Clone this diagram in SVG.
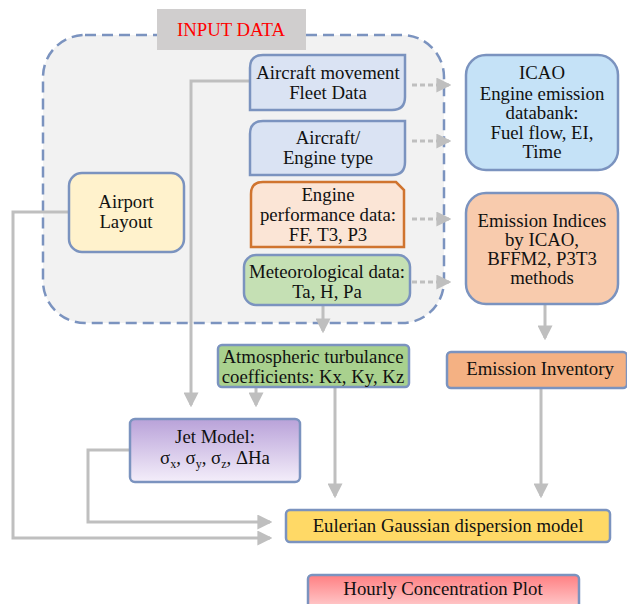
<svg xmlns="http://www.w3.org/2000/svg" width="627" height="604" viewBox="0 0 627 604" font-family="'Liberation Serif', 'Times New Roman', serif">
<defs>
<linearGradient id="gJet" x1="0" y1="0" x2="0" y2="1">
<stop offset="0" stop-color="#b9a2d9"/>
<stop offset="1" stop-color="#f4eefa"/>
</linearGradient>
<linearGradient id="gHour" x1="0" y1="0" x2="0" y2="1">
<stop offset="0" stop-color="#ff7f82"/>
<stop offset="1" stop-color="#ffd3d4"/>
</linearGradient>
<marker id="ah" markerWidth="5" markerHeight="5" refX="4.2" refY="2.5" orient="auto" markerUnits="strokeWidth">
<path d="M0,0 L5,2.5 L0,5 Z" fill="#bfbfbf"/>
</marker>
</defs>
<style>
text{font-family:"Liberation Serif","Times New Roman",serif;font-size:18.8px;fill:#111;text-anchor:middle}
.box{stroke:#7b93bf;stroke-width:2.5}
.con{fill:none;stroke:#bfbfbf;stroke-width:3}
.dash{fill:none;stroke:#bfbfbf;stroke-width:3;stroke-dasharray:5,3}
</style>
<rect width="627" height="604" fill="#ffffff"/>

<g id="input-data">
<rect x="43" y="35" width="401" height="288" rx="42" fill="#f2f2f2" stroke="#7b93bf" stroke-width="2.5" stroke-dasharray="11,6"/>
<rect x="157" y="9" width="149" height="41" fill="#d0cece"/>
<text x="231" y="36" style="fill:#ff0000">INPUT DATA</text>
</g>

<g id="connectors">
<path class="dash" d="M412,85 H449" marker-end="url(#ah)"/>
<path class="dash" d="M412,141 H449" marker-end="url(#ah)"/>
<path class="dash" d="M412,219 H449" marker-end="url(#ah)"/>
<path class="dash" d="M412,282 H449" marker-end="url(#ah)"/>
<path class="con" d="M250,81 H191 V405" marker-end="url(#ah)"/>
<path class="con" d="M69,212 H13 V538 H270" marker-end="url(#ah)"/>
<path class="con" d="M130,450 H88 V522 H270" marker-end="url(#ah)"/>
<path class="con" d="M323,305 V331" marker-end="url(#ah)"/>
<path class="con" d="M256,387 V405" marker-end="url(#ah)"/>
<path class="con" d="M335,387 V496" marker-end="url(#ah)"/>
<path class="con" d="M545,304 V338" marker-end="url(#ah)"/>
<path class="con" d="M541,388 V496" marker-end="url(#ah)"/>
</g>

<g id="aircraft-movement">
<path class="box" d="M250,68 Q250,55 263,55 H405 V97 Q405,110 392,110 H250 Z" fill="#dae3f3"/>
<text x="328" y="79">Aircraft movement</text>
<text x="328" y="99">Fleet Data</text>
</g>

<g id="aircraft-engine-type">
<path class="box" d="M250,134 Q250,121 263,121 H405 V162 Q405,175 392,175 H250 Z" fill="#dae3f3"/>
<text x="328" y="144">Aircraft/</text>
<text x="328" y="164">Engine type</text>
</g>

<g id="engine-performance">
<path d="M251,194 Q251,182 263,182 H396 L404,190 V247 H251 Z" fill="#fbe5d6" stroke="#d0742f" stroke-width="2.5"/>
<text x="328" y="201">Engine</text>
<text x="328" y="221">performance data:</text>
<text x="328" y="241">FF, T3, P3</text>
</g>

<g id="meteorological">
<rect class="box" x="244" y="255" width="166" height="50" rx="12" fill="#c5e0b4"/>
<text x="327" y="278">Meteorological data:</text>
<text x="327" y="298">Ta, H, Pa</text>
</g>

<g id="airport-layout">
<rect class="box" x="69" y="173" width="115" height="79" rx="13" fill="#fff2cc"/>
<text x="126" y="208">Airport</text>
<text x="126" y="228">Layout</text>
</g>

<g id="icao">
<rect class="box" x="466" y="55" width="152" height="115" rx="20" fill="#c5e2f7"/>
<text x="542" y="79">ICAO</text>
<text x="542" y="100">Engine emission</text>
<text x="542" y="119">databank:</text>
<text x="542" y="139">Fuel flow, EI,</text>
<text x="542" y="158">Time</text>
</g>

<g id="emission-indices">
<rect class="box" x="466" y="193" width="152" height="111" rx="20" fill="#f8cbad"/>
<text x="542" y="227">Emission Indices</text>
<text x="542" y="246">by ICAO,</text>
<text x="542" y="265">BFFM2, P3T3</text>
<text x="542" y="284">methods</text>
</g>

<g id="emission-inventory">
<rect class="box" x="447" y="352" width="180" height="36" rx="4" fill="#f4b183"/>
<text x="540" y="375">Emission Inventory</text>
</g>

<g id="atmospheric-turbulance">
<rect class="box" x="218" y="345" width="191" height="42" rx="4" fill="#a9d18e"/>
<text x="313" y="363">Atmospheric turbulance</text>
<text x="313" y="383">coefficients: Kx, Ky, Kz</text>
</g>

<g id="jet-model">
<rect class="box" x="130" y="419" width="170" height="63" rx="5" fill="url(#gJet)"/>
<text x="215" y="443">Jet Model:</text>
<text x="215" y="464">σ<tspan font-size="12" dy="4">x</tspan><tspan dy="-4">, σ</tspan><tspan font-size="12" dy="4">y</tspan><tspan dy="-4">, σ</tspan><tspan font-size="12" dy="4">z</tspan><tspan dy="-4">, ΔHa</tspan></text>
</g>

<g id="eulerian">
<rect class="box" x="286" y="510" width="324" height="32" rx="4" fill="#ffd966"/>
<text x="448" y="532">Eulerian Gaussian dispersion model</text>
</g>

<g id="hourly">
<rect class="box" x="308" y="575" width="271" height="36" rx="4" fill="url(#gHour)"/>
<text x="443" y="595">Hourly Concentration Plot</text>
</g>
</svg>
